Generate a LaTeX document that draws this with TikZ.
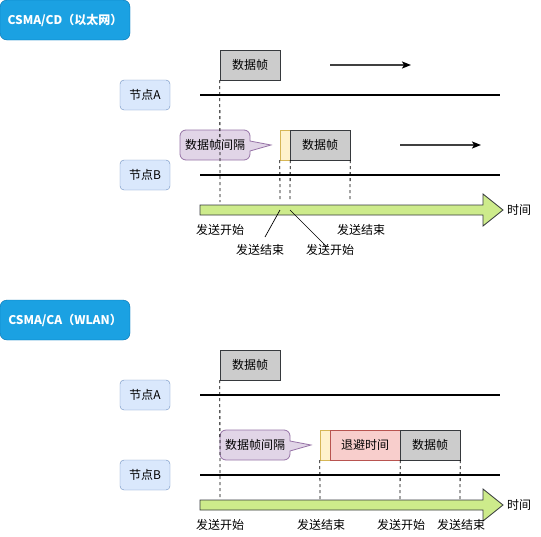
\documentclass[tikz,border=0pt]{standalone}
\usepackage{fontspec}
\setmainfont{Noto Sans CJK SC}
\usetikzlibrary{arrows.meta}
\definecolor{titlefill}{HTML}{1BA1E2}
\definecolor{titledraw}{HTML}{006EAF}
\definecolor{nodefill}{HTML}{DAE8FC}
\definecolor{nodedraw}{HTML}{6C8EBF}
\definecolor{framefill}{HTML}{CCCCCC}
\definecolor{framedraw}{HTML}{36393D}
\definecolor{gapfill}{HTML}{E1D5E7}
\definecolor{gapdraw}{HTML}{9673A6}
\definecolor{ifsfill}{HTML}{FFF2CC}
\definecolor{ifsdraw}{HTML}{D6B656}
\definecolor{backfill}{HTML}{F8CECC}
\definecolor{backdraw}{HTML}{B85450}
\definecolor{timefill}{HTML}{CDEB8B}
\begin{document}
\begin{tikzpicture}[x=1pt,y=-1pt,
  every node/.style={font=\fontsize{12pt}{14pt}\selectfont, inner sep=0pt},
  titlebox/.style={draw=titledraw, fill=titlefill, rounded corners=7pt, minimum width=130pt, minimum height=40pt, text=white, font=\fontsize{12pt}{14pt}\selectfont\bfseries},
  nodebox/.style={draw=nodedraw, fill=nodefill, rounded corners=4pt, minimum width=50pt, minimum height=30pt},
  framebox/.style={draw=framedraw, fill=framefill, minimum width=60pt, minimum height=30pt},
  ifsbox/.style={draw=ifsdraw, fill=ifsfill, minimum width=10pt, minimum height=30pt},
  backbox/.style={draw=backdraw, fill=backfill, minimum width=70pt, minimum height=30pt},
  medium/.style={line width=2.2pt, black},
  dashline/.style={black, line width=0.8pt, dash pattern=on 3pt off 3pt},
  moveline/.style={black!75, line width=1.4pt, -{Stealth[length=9pt,width=7pt,inset=2pt,black]}},
  leader/.style={black, line width=0.7pt},
  timearrow/.style={draw=framedraw, fill=timefill, line width=0.8pt},
  gapshape/.style={draw=gapdraw, fill=gapfill, line width=0.8pt, rounded corners=6pt}
]
\useasboundingbox (0,0) rectangle (541,536);

% ===================== CSMA/CD =====================
\node[titlebox] (t1) at (65,20) {CSMA/CD（以太网）};
\node[framebox] (f1) at (250,65) {数据帧};
\node[nodebox] (a1) at (145,95) {节点A};
\node[nodebox] (b1) at (145,175) {节点B};
\coordinate (a1s) at (200,95); \coordinate (a1e) at (500,95);
\coordinate (b1s) at (200,175); \coordinate (b1e) at (500,175);
\draw[medium] (a1s) -- (a1e);
\draw[medium] (b1s) -- (b1e);
\coordinate (m1s) at (330,65); \coordinate (m1e) at (411,65);
\draw[moveline] (m1s) -- (m1e);
\draw[gapshape] (180,130) -- (250,130) [sharp corners] -- (250,141) -- (271,145) -- (250,151) [rounded corners=6pt] -- (250,160) -- (180,160) -- cycle;
\node (g1) at (215,145) {数据帧间隔};
\node[ifsbox] (i1) at (285,145) {};
\node[framebox] (f2) at (320,145) {数据帧};
\coordinate (m2s) at (400,145); \coordinate (m2e) at (481,145);
\draw[moveline] (m2s) -- (m2e);
\draw[timearrow] (200,205) -- (483,205) -- (483,194) -- (503,210) -- (483,226) -- (483,215) -- (200,215) -- cycle;
\node[anchor=west] (tm1) at (507,210) {时间};
\draw[dashline] (f1.south west) -- (220,202);
\draw[dashline] (i1.south west) -- (280,202);
\draw[dashline] (i1.south east) -- (290,202);
\draw[dashline] (f2.south east) -- (350,202);
\node (l1) at (220,230) {发送开始};
\node (l2) at (361,230) {发送结束};
\node (l3) at (260,250) {发送结束};
\node (l4) at (330,250) {发送开始};
\coordinate (p1) at (280,210); \coordinate (p2) at (290,210);
\draw[leader] (p1) -- (265,237);
\draw[leader] (p2) -- (327,247);

% ===================== CSMA/CA =====================
\node[titlebox] (t2) at (65,320) {CSMA/CA（WLAN）};
\node[framebox] (f3) at (250,365) {数据帧};
\node[nodebox] (a2) at (145,395) {节点A};
\node[nodebox] (b2) at (145,475) {节点B};
\coordinate (a2s) at (200,395); \coordinate (a2e) at (500,395);
\coordinate (b2s) at (200,475); \coordinate (b2e) at (500,475);
\draw[medium] (a2s) -- (a2e);
\draw[medium] (b2s) -- (b2e);
\draw[gapshape] (220,430) -- (290,430) [sharp corners] -- (290,441) -- (311,445) -- (290,451) [rounded corners=6pt] -- (290,460) -- (220,460) -- cycle;
\node (g2) at (255,445) {数据帧间隔};
\node[ifsbox] (i2) at (325,445) {};
\node[backbox] (k2) at (365,445) {退避时间};
\node[framebox] (f4) at (430,445) {数据帧};
\draw[timearrow] (200,500) -- (483,500) -- (483,489) -- (503,505) -- (483,521) -- (483,510) -- (200,510) -- cycle;
\node[anchor=west] (tm2) at (507,505) {时间};
\draw[dashline] (f3.south west) -- (220,500);
\draw[dashline] (i2.south west) -- (320,500);
\draw[dashline] (k2.south east) -- (400,500);
\draw[dashline] (f4.south east) -- (460,500);
\node (l5) at (220,525) {发送开始};
\node (l6) at (321,525) {发送结束};
\node (l7) at (401,525) {发送开始};
\node (l8) at (461,525) {发送结束};
\end{tikzpicture}
\end{document}
